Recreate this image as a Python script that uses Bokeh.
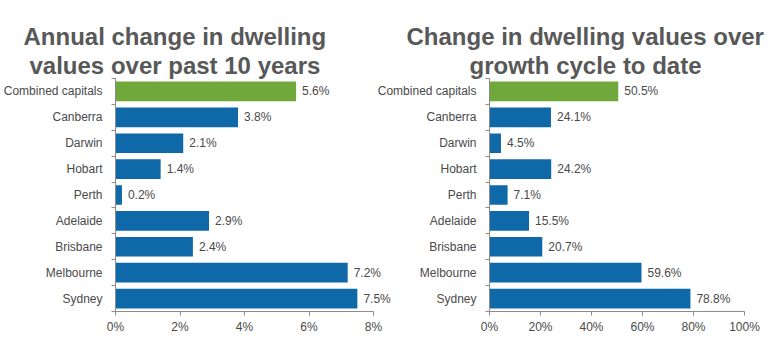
from bokeh.plotting import figure
from bokeh.models import (ColumnDataSource, Range1d, FixedTicker, LabelSet, Title)
from bokeh.core.properties import value
from bokeh.layouts import row
from bokeh.embed import file_html
from bokeh.resources import INLINE

cities = ["Combined capitals", "Canberra", "Darwin", "Hobart", "Perth",
          "Adelaide", "Brisbane", "Melbourne", "Sydney"]
annual_change = [5.6, 3.8, 2.1, 1.4, 0.2, 2.9, 2.4, 7.2, 7.5]
cycle_change = [50.5, 24.1, 4.5, 24.2, 7.1, 15.5, 20.7, 59.6, 78.8]
left_ticks = [0, 2, 4, 6, 8]
left_tick_labels = ["0%", "2%", "4%", "6%", "8%"]
right_ticks = [0, 20, 40, 60, 80, 100]
right_tick_labels = ["0%", "20%", "40%", "60%", "80%", "100%"]
title_left = ["Annual change in dwelling", "values over past 10 years"]
title_right = ["Change in dwelling values over", "growth cycle to date"]

GREEN = "#71A83B"
BLUE = "#0F69A8"
AXIS = "#8C8C8C"
TXT = "#4A4A4A"
TITLE = "#585858"
FONT = "Liberation Sans"


def make(values, ticks, tick_labels, xend, titles, offsets, fw, bl, br, margin):
    n = len(cities)
    src = ColumnDataSource(dict(
        y=[i + 0.5 for i in range(n)],
        v=values,
        lab=[f"{v:.1f}%" for v in values],
        c=[GREEN] + [BLUE] * (n - 1),
    ))
    p = figure(frame_width=fw, frame_height=233, output_backend="svg",
               toolbar_location=None, margin=margin,
               x_range=Range1d(0, xend), y_range=Range1d(n, 0),
               min_border_left=bl, min_border_right=br, min_border_top=78,
               min_border_bottom=34)
    p.border_fill_alpha = 0
    p.background_fill_alpha = 0
    p.hbar(y="y", left=0, right="v", height=0.76, color="c", line_color=None, source=src)
    p.add_layout(LabelSet(x="v", y="y", text="lab", source=src, x_offset=6,
                          text_baseline="middle", text_font_size="12px",
                          text_color=TXT, text_font=value(FONT)))
    # titles: add bottom line first so it sits closest to the frame
    for t, off in reversed(list(zip(titles, offsets))):
        p.add_layout(Title(text=t, align="left", offset=off, text_font=FONT,
                           text_font_size="24px", text_font_style="bold",
                           text_color=TITLE, standoff=0), "above")
    p.outline_line_color = None
    p.xgrid.visible = False
    p.ygrid.visible = False
    xa = p.xaxis[0]
    xa.ticker = FixedTicker(ticks=ticks, minor_ticks=[])
    xa.bounds = (ticks[0], ticks[-1])
    xa.major_label_overrides = {t: l for t, l in zip(ticks, tick_labels)}
    xa.axis_line_color = AXIS
    xa.major_tick_line_color = AXIS
    xa.major_tick_out = 4
    xa.major_tick_in = 0
    xa.major_label_text_font = FONT
    xa.major_label_text_font_size = "12px"
    xa.major_label_text_color = TXT
    xa.major_label_standoff = 4
    ya = p.yaxis[0]
    ya.ticker = FixedTicker(ticks=[i + 0.5 for i in range(n)],
                            minor_ticks=list(range(n + 1)))
    ya.major_label_overrides = {i + 0.5: c for i, c in enumerate(cities)}
    ya.axis_line_color = AXIS
    ya.major_tick_out = 0
    ya.major_tick_in = 0
    ya.minor_tick_out = 4
    ya.minor_tick_in = 0
    ya.minor_tick_line_color = AXIS
    ya.major_label_text_font = FONT
    ya.major_label_text_font_size = "12px"
    ya.major_label_text_color = TXT
    ya.major_label_standoff = 9
    return p


# left frame: 278 px wide, of which 0..8 takes 258 px (room for value labels)
p1 = make(annual_change, left_ticks, left_tick_labels, 8 * 278 / 258, title_left,
          [-92, -86], 278, 108, 0, (0, 0, 0, 0))
p2 = make(cycle_change, right_ticks, right_tick_labels, 100, title_right,
          [-83, -20], 255, 110, 29, (0, 0, 0, -19))
layout = row(p1, p2)

open("out.html", "w").write(file_html(layout, INLINE))
